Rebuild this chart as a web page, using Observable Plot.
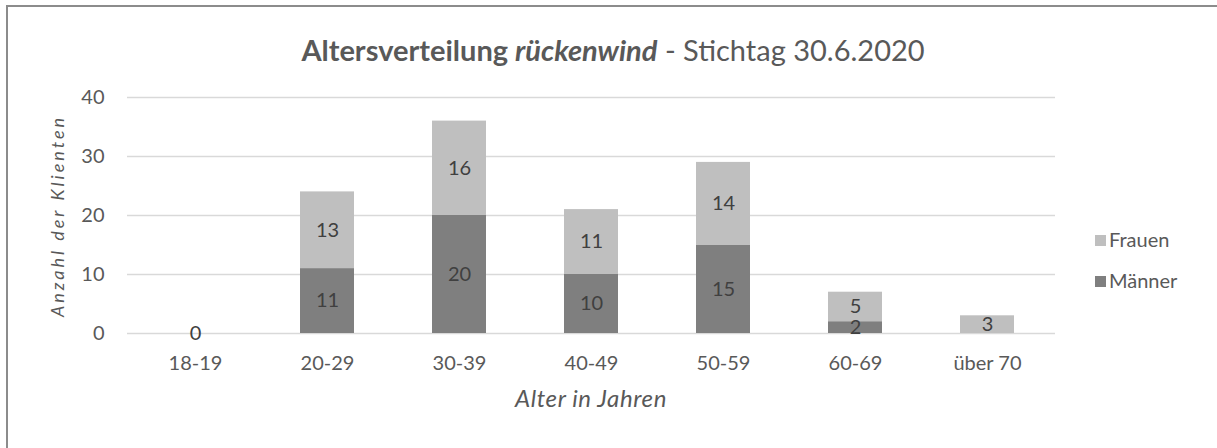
<!DOCTYPE html>
<html>
<head>
<meta charset="utf-8">
<script src="https://cdn.jsdelivr.net/npm/d3@7"></script>
<script src="https://cdn.jsdelivr.net/npm/@observablehq/plot@0.6"></script>
<style>
  html, body { margin: 0; padding: 0; background: #fff; }
  #wrap { position: relative; width: 1217px; height: 448px; overflow: hidden; font-family: Lato, "Open Sans", sans-serif; }
  #frame { position: absolute; left: 6px; top: 5px; width: 1300px; height: 600px; border-top: 2px solid #8c8c8c; border-left: 2px solid #8c8c8c; box-sizing: border-box; }
  #title { position: absolute; left: 0; width: 1226px; top: 35px; line-height: 29px; text-align: center; font-size: 29px; color: #595959; white-space: nowrap; }
  #xtitle { position: absolute; left: 127px; width: 928px; top: 386px; line-height: 24px; text-align: center; font-size: 24px; letter-spacing: 0.6px; font-style: italic; color: #595959; }
  #ytitle { position: absolute; left: 57px; top: 216px; line-height: 18px; transform: translate(-50%, -50%) rotate(-90deg); font-size: 18px; letter-spacing: 3px; font-style: italic; color: #595959; white-space: nowrap; }
  #chart { position: absolute; left: 0; top: 0; }
  .sw { position: absolute; left: 1095px; width: 11px; height: 11px; }
  .lt { position: absolute; left: 1109px; font-size: 20px; line-height: 20px; color: #595959; white-space: nowrap; }
</style>
</head>
<body>
<div id="wrap">
  <div id="frame"></div>
  <div id="chart"></div>
  <div id="title"><b>Altersverteilung <i>rückenwind</i></b> - Stichtag 30.6.2020</div>
  <div id="ytitle">Anzahl der Klienten</div>
  <div id="xtitle">Alter in Jahren</div>
  <div id="legend"></div>
</div>
<script>
const categories = ["18-19", "20-29", "30-39", "40-49", "50-59", "60-69", "über 70"];
const maenner = [0, 11, 20, 10, 15, 2, null];
const frauen = [null, 13, 16, 11, 14, 5, 3];
const seriesNames = ["Männer", "Frauen"];
const seriesColors = ["#7f7f7f", "#bfbfbf"];
const yTicks = [0, 10, 20, 30, 40];

const data = [];
categories.forEach((c, i) => {
  if (maenner[i] != null) data.push({cat: c, sex: "Männer", value: maenner[i]});
  if (frauen[i] != null) data.push({cat: c, sex: "Frauen", value: frauen[i]});
});

const chart = Plot.plot({
  width: 1217,
  height: 448,
  marginLeft: 127,
  marginRight: 162,
  marginTop: 97,
  marginBottom: 115,
  style: {fontFamily: "Lato, 'Open Sans', sans-serif", fontSize: "20px", color: "#595959", background: "transparent"},
  x: {domain: categories, paddingInner: 0.59, paddingOuter: 0.295, label: null},
  y: {domain: [0, 40], label: null},
  color: {domain: seriesNames, range: seriesColors},
  marks: [
    Plot.gridY(yTicks, {stroke: "#d9d9d9", strokeOpacity: 1, strokeWidth: 1.5}),
    Plot.barY(data, Plot.stackY({x: "cat", y: "value", fill: "sex", z: "sex", order: seriesNames})),
    Plot.text(data, Plot.stackY({x: "cat", y: "value", z: "sex", order: seriesNames, text: d => String(d.value), fill: "#404040", fontSize: 20})),
    Plot.axisY(yTicks, {tickSize: 0, tickPadding: 23, fontSize: 20, fill: "#595959", label: null}),
    Plot.axisX({tickSize: 0, tickPadding: 22, fontSize: 20, fill: "#595959", label: null})
  ]
});
document.getElementById("chart").appendChild(chart);

const legend = document.getElementById("legend");
const legendOrder = [1, 0];
legendOrder.forEach((k, j) => {
  const sw = document.createElement("div");
  sw.className = "sw";
  sw.style.top = (235 + j * 41) + "px";
  sw.style.background = seriesColors[k];
  legend.appendChild(sw);
  const t = document.createElement("div");
  t.className = "lt";
  t.style.top = (229 + j * 41) + "px";
  t.textContent = seriesNames[k];
  legend.appendChild(t);
});
</script>
</body>
</html>
